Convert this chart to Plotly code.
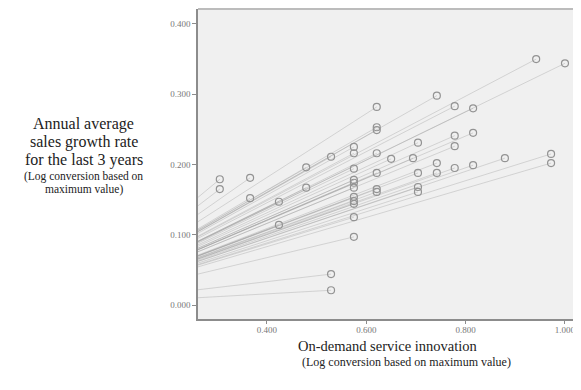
import plotly.graph_objects as go

# --- data ---
innovation = [0.305, 0.305, 0.366, 0.366, 0.424, 0.424, 0.479, 0.479,
              0.529, 0.529, 0.529,
              0.575, 0.575, 0.575, 0.575, 0.575, 0.575, 0.575, 0.575, 0.575, 0.575, 0.575,
              0.621, 0.621, 0.621, 0.621, 0.621, 0.621, 0.621,
              0.650, 0.694,
              0.704, 0.704, 0.704, 0.704,
              0.742, 0.742, 0.742,
              0.778, 0.778, 0.778, 0.778,
              0.815, 0.815, 0.815,
              0.879, 0.942, 0.972, 0.972, 1.000]
growth = [0.179, 0.165, 0.181, 0.152, 0.147, 0.114, 0.196, 0.167,
          0.211, 0.044, 0.021,
          0.225, 0.216, 0.194, 0.178, 0.174, 0.167, 0.154, 0.148, 0.144, 0.125, 0.097,
          0.282, 0.253, 0.249, 0.216, 0.188, 0.165, 0.161,
          0.208, 0.209,
          0.231, 0.188, 0.168, 0.161,
          0.298, 0.202, 0.188,
          0.283, 0.241, 0.226, 0.195,
          0.280, 0.245, 0.199,
          0.209, 0.350, 0.215, 0.202, 0.344]
origin = (0.0, 0.0)
x_ticks = [0.4, 0.6, 0.8, 1.0]
y_ticks = [0.0, 0.1, 0.2, 0.3, 0.4]

# spikes to origin
sx, sy = [], []
for xv, yv in zip(innovation, growth):
    sx += [origin[0], xv, None]
    sy += [origin[1], yv, None]

fig = go.Figure()
fig.add_trace(go.Scatter(x=sx, y=sy, mode="lines",
                         line=dict(color="rgba(150,150,150,0.33)", width=1),
                         hoverinfo="skip", showlegend=False))
fig.add_trace(go.Scatter(x=innovation, y=growth, mode="markers",
                         marker=dict(symbol="circle-open", size=7,
                                     color="#939393", line=dict(width=1.2)),
                         showlegend=False, cliponaxis=False))

serif = "Liberation Serif"
tickfont = dict(family=serif, size=9, color="#777777")

# the page body adds an 8px offset, so the figure is 8px smaller
fig.update_layout(
    width=573, height=382,
    margin=dict(l=190, r=4, t=1, b=71),
    paper_bgcolor="white",
    plot_bgcolor="#f0f0f0",
    xaxis=dict(range=[0.2611, 1.0242], tickvals=x_ticks, tickformat=".3f",
               showgrid=False, zeroline=False,
               showline=True, linecolor="#8c8c8c", linewidth=1.5, mirror=False,
               ticks="outside", ticklen=3, tickcolor="#8c8c8c", tickfont=tickfont,
               ticklabelstandoff=-2),
    yaxis=dict(range=[-0.0199, 0.4213], tickvals=y_ticks, tickformat=".3f",
               showgrid=False, zeroline=False,
               showline=True, linecolor="#8c8c8c", linewidth=1.5,
               ticks="outside", ticklen=4, tickcolor="#8c8c8c", tickfont=tickfont),
)

# top border line of the plot frame
fig.add_shape(type="line", xref="paper", yref="paper", x0=0, x1=1, y0=1, y1=1,
              line=dict(color="#bcbcbc", width=2))


def px_x(p):
    return (p - 198) / 379.0


def px_y(p):
    return (319 - p) / 310.0


ytitle = [("Annual average", 124, 16), ("sales growth rate", 142, 16),
          ("for the last 3 years", 160, 16),
          ("(Log conversion based on", 176, 11.5), ("maximum value)", 189.5, 11.5)]
for txt, py, sz in ytitle:
    fig.add_annotation(text=txt, xref="paper", yref="paper", x=px_x(84), y=px_y(py),
                       xanchor="center", yanchor="middle", showarrow=False,
                       font=dict(family=serif, size=sz, color="#222222"))

fig.add_annotation(text="On-demand service innovation", xref="paper", yref="paper",
                   x=px_x(388), y=px_y(346), xanchor="center", yanchor="middle",
                   showarrow=False, font=dict(family=serif, size=14.5, color="#222222"))
fig.add_annotation(text="(Log conversion based on maximum value)", xref="paper", yref="paper",
                   x=px_x(406), y=px_y(362), xanchor="center", yanchor="middle",
                   showarrow=False, font=dict(family=serif, size=12, color="#222222"))

fig.write_html("out.html")
